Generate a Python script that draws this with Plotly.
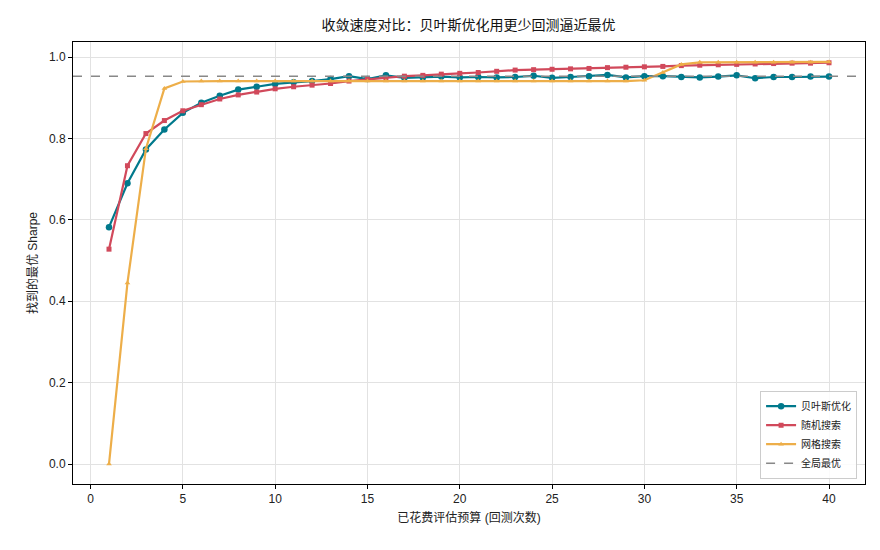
import plotly.graph_objects as go

budget = list(range(1, 41))

bayes = [0.582, 0.690, 0.773, 0.822, 0.863, 0.888, 0.905, 0.920, 0.927, 0.934,
         0.938, 0.941, 0.946, 0.953, 0.946, 0.955, 0.949, 0.950, 0.952, 0.950,
         0.951, 0.950, 0.951, 0.954, 0.949, 0.951, 0.953, 0.956, 0.950, 0.953,
         0.953, 0.951, 0.950, 0.952, 0.955, 0.948, 0.951, 0.951, 0.952, 0.952]

random_s = [0.528, 0.733, 0.812, 0.844, 0.868, 0.883, 0.897, 0.907, 0.914, 0.922,
            0.927, 0.931, 0.935, 0.941, 0.945, 0.948, 0.953, 0.955, 0.958, 0.960,
            0.962, 0.965, 0.968, 0.969, 0.970, 0.971, 0.972, 0.974, 0.975, 0.976,
            0.977, 0.979, 0.980, 0.981, 0.982, 0.983, 0.984, 0.985, 0.985, 0.986]

grid_s = [0.000, 0.445, 0.775, 0.923, 0.940, 0.941, 0.941, 0.941, 0.941, 0.941,
          0.941, 0.941, 0.941, 0.941, 0.941, 0.941, 0.941, 0.941, 0.941, 0.941,
          0.941, 0.941, 0.941, 0.941, 0.941, 0.941, 0.941, 0.941, 0.941, 0.943,
          0.962, 0.982, 0.987, 0.987, 0.987, 0.987, 0.987, 0.987, 0.987, 0.988]

global_best = 0.953

names = ["贝叶斯优化", "随机搜索", "网格搜索", "全局最优"]
colors = ["#00798c", "#d1495b", "#edae49", "#888888"]

FONT = "Liberation Sans, Noto Sans CJK SC, sans-serif"

fig = go.Figure()
fig.add_trace(go.Scatter(x=budget, y=bayes, name=names[0], mode="lines+markers",
                         line=dict(color=colors[0], width=2.2),
                         marker=dict(symbol="circle", size=6.5, color=colors[0])))
fig.add_trace(go.Scatter(x=budget, y=random_s, name=names[1], mode="lines+markers",
                         line=dict(color=colors[1], width=2.2),
                         marker=dict(symbol="square", size=5, color=colors[1])))
fig.add_trace(go.Scatter(x=budget, y=grid_s, name=names[2], mode="lines+markers",
                         line=dict(color=colors[2], width=2.2),
                         marker=dict(symbol="triangle-up", size=5, color=colors[2])))
fig.add_trace(go.Scatter(x=[None], y=[None], name=names[3], mode="lines",
                         line=dict(color=colors[3], width=1.6, dash="dash")))

fig.add_shape(type="line", xref="paper", yref="y", x0=0, x1=1,
              y0=global_best, y1=global_best, layer="above",
              line=dict(color=colors[3], width=1.6, dash="dash"))

fig.update_layout(
    width=880, height=550,
    margin=dict(l=73, r=15, t=42, b=66),
    paper_bgcolor="white", plot_bgcolor="white",
    font=dict(family=FONT, size=12, color="#222222"),
    title=dict(text="收敛速度对比：贝叶斯优化用更少回测逼近最优",
               x=0.5325, xanchor="center", y=0.955, yanchor="middle",
               font=dict(size=14, color="#111111")),
    legend=dict(x=0.99, y=0.012, xanchor="right", yanchor="bottom",
                bgcolor="rgba(255,255,255,0.85)", bordercolor="#cccccc", borderwidth=1,
                font=dict(size=10), itemwidth=30, tracegroupgap=0),
    showlegend=True,
)
fig.update_xaxes(range=[-0.95, 41.95], tickvals=[0, 5, 10, 15, 20, 25, 30, 35, 40],
                 showline=True, linecolor="black", linewidth=1, mirror=True,
                 ticks="outside", ticklen=4, tickcolor="black",
                 showgrid=True, gridcolor="#e2e2e2", gridwidth=1, zeroline=False,
                 title=dict(text="已花费评估预算 (回测次数)", font=dict(size=12), standoff=8),
                 tickfont=dict(size=12))
fig.update_yaxes(range=[-0.049, 1.037], tickvals=[0, 0.2, 0.4, 0.6, 0.8, 1.0],
                 tickformat=".1f",
                 showline=True, linecolor="black", linewidth=1, mirror=True,
                 ticks="outside", ticklen=4, tickcolor="black",
                 showgrid=True, gridcolor="#e2e2e2", gridwidth=1, zeroline=False,
                 title=dict(text="找到的最优 Sharpe", font=dict(size=12), standoff=8),
                 tickfont=dict(size=12))

fig.write_html("out.html")
